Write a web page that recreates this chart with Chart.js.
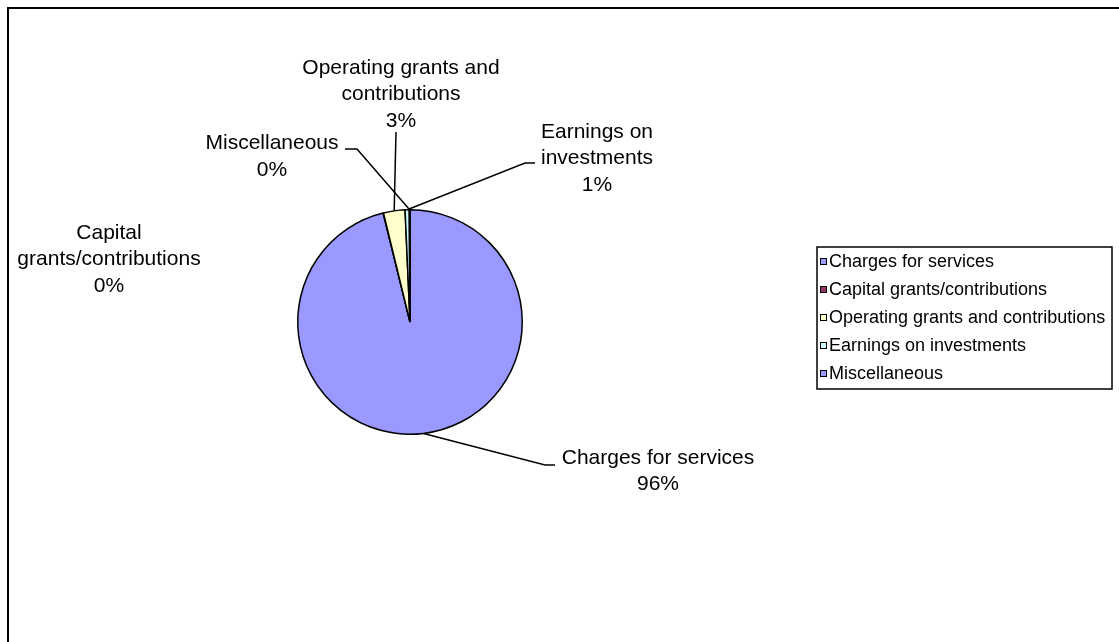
<!DOCTYPE html>
<html>
<head>
<meta charset="utf-8">
<script src="https://cdn.jsdelivr.net/npm/chart.js@4.4.1/dist/chart.umd.min.js"></script>
<style>
  html, body { margin: 0; padding: 0; background: #ffffff; }
  #wrap { position: relative; width: 1119px; height: 642px; }
</style>
</head>
<body>
<div id="wrap"><canvas id="c" width="1119" height="642"></canvas></div>
<script>
// ---- data ----
const categories = ['Charges for services', 'Capital grants/contributions', 'Operating grants and contributions', 'Earnings on investments', 'Miscellaneous'];
const shares = [96.15, 0.05, 3.1, 0.6, 0.1];
const sliceColors = ['#9999FF', '#993366', '#FFFFCC', '#CCFFFF', '#9999FF'];
const labelLines = [['Charges for services'], ['Capital', 'grants/contributions'], ['Operating grants and', 'contributions'], ['Earnings on', 'investments'], ['Miscellaneous']];

// ---- layout of data labels (positions only) ----
const labelLayout = [
  { cx: 658, y0: 458, leader: [[545, 465], [555, 465]] },
  { cx: 109, y0: 233, leader: null },
  { cx: 401, y0: 68, leader: [[396, 132]] },
  { cx: 597, y0: 132, leader: [[525, 163], [535, 163]] },
  { cx: 272, y0: 143.5, leader: [[357, 149], [345, 149]] }
];

const FONT = '"Liberation Sans", Arial, sans-serif';

const decorPlugin = {
  id: 'decor',
  beforeDraw(chart) {
    const ctx = chart.ctx;
    ctx.save();
    ctx.fillStyle = '#ffffff';
    ctx.fillRect(0, 0, chart.width, chart.height);
    ctx.strokeStyle = '#000000';
    ctx.lineWidth = 2;
    ctx.strokeRect(8, 8, chart.width + 20, chart.height + 20);
    ctx.restore();
  },
  afterDraw(chart) {
    const ctx = chart.ctx;
    const meta = chart.getDatasetMeta(0);
    const data = chart.data.datasets[0].data;
    const total = data.reduce((a, b) => a + b, 0);
    ctx.save();
    // leader lines + labels
    meta.data.forEach((arc, i) => {
      const p = arc.getProps(['x', 'y', 'startAngle', 'endAngle', 'outerRadius'], true);
      const mid = (p.startAngle + p.endAngle) / 2;
      const px = p.x + p.outerRadius * Math.cos(mid);
      const py = p.y + p.outerRadius * Math.sin(mid);
      const L = labelLayout[i];
      if (L.leader) {
        ctx.strokeStyle = '#000000';
        ctx.lineWidth = 1.5;
        ctx.beginPath();
        ctx.moveTo(px, py);
        L.leader.forEach(pt => ctx.lineTo(pt[0], pt[1]));
        ctx.stroke();
      }
      const lines = labelLines[i].concat([Math.round(data[i] / total * 100) + '%']);
      ctx.fillStyle = '#000000';
      ctx.font = '21px ' + FONT;
      ctx.textAlign = 'center';
      ctx.textBaseline = 'middle';
      lines.forEach((t, k) => ctx.fillText(t, L.cx, L.y0 + k * 26.5));
    });
    // legend
    const box = { x: 817, y: 247, w: 295, h: 142 };
    ctx.fillStyle = '#ffffff';
    ctx.fillRect(box.x, box.y, box.w, box.h);
    ctx.strokeStyle = '#000000';
    ctx.lineWidth = 1.5;
    ctx.strokeRect(box.x, box.y, box.w, box.h);
    ctx.font = '18px ' + FONT;
    ctx.textAlign = 'left';
    ctx.textBaseline = 'middle';
    chart.data.labels.forEach((lab, i) => {
      const yy = 262 + i * 28;
      ctx.fillStyle = chart.data.datasets[0].backgroundColor[i];
      ctx.fillRect(820, yy - 4, 7, 7);
      ctx.strokeStyle = '#000000';
      ctx.lineWidth = 1;
      ctx.strokeRect(820.5, yy - 3.5, 6, 6);
      ctx.fillStyle = '#000000';
      ctx.fillText(lab, 829, yy);
    });
    ctx.restore();
  }
};

new Chart(document.getElementById('c'), {
  type: 'pie',
  data: {
    labels: categories,
    datasets: [{
      data: shares,
      backgroundColor: sliceColors,
      borderColor: '#000000',
      borderWidth: 1.5
    }]
  },
  options: {
    responsive: false,
    animation: false,
    rotation: 0,
    layout: { padding: { left: 297, right: 596, top: 209, bottom: 207 } },
    plugins: {
      legend: { display: false },
      tooltip: { enabled: false },
      title: { display: false }
    }
  },
  plugins: [decorPlugin]
});
</script>
</body>
</html>
